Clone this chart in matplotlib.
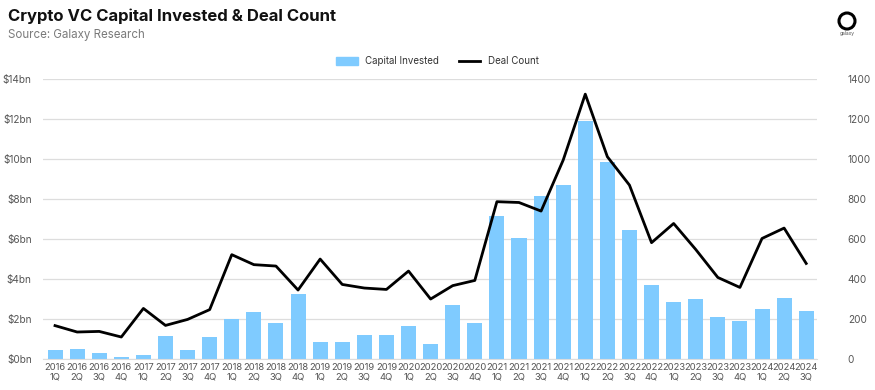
import numpy as np
import matplotlib
matplotlib.use("Agg")
import matplotlib.pyplot as plt
from matplotlib.patches import Circle, Patch
from matplotlib.lines import Line2D

BAR = "#7FCBFF"
GRID = "#DDDDDD"
TICK = "#555555"

years = [2016] * 4 + [2017] * 4 + [2018] * 4 + [2019] * 4 + [2020] * 4 + \
        [2021] * 4 + [2022] * 4 + [2023] * 4 + [2024] * 3
quarters = (["1Q", "2Q", "3Q", "4Q"] * 9)[:35]
labels = [f"{y}\n{q}" for y, q in zip(years, quarters)]

capital_bn = [0.45, 0.52, 0.30, 0.08, 0.20, 1.15, 0.45, 1.10,
              1.98, 2.37, 1.80, 3.27, 0.85, 0.85, 1.20, 1.20,
              1.67, 0.75, 2.72, 1.82, 7.17, 6.07, 8.15, 8.73,
              11.90, 9.87, 6.45, 3.70, 2.85, 3.00, 2.08, 1.92,
              2.50, 3.07, 2.42]
deal_count = [167, 135, 138, 110, 253, 168, 198, 247,
              522, 472, 465, 345, 500, 373, 355, 348,
              440, 300, 367, 393, 787, 783, 740, 995,
              1325, 1012, 870, 582, 678, 548, 408, 358,
              603, 655, 478]

plt.rcParams["font.family"] = ["Inter", "DejaVu Sans"]

fig = plt.figure(figsize=(8.75, 3.9), dpi=100)
ax = fig.add_axes([0.049, 0.0795, 0.885, 0.7175])
ax2 = ax.twinx()

x = np.arange(len(labels))
ax.bar(x, capital_bn, width=0.68, color=BAR, zorder=2)
ax2.plot(x, deal_count, color="black", lw=2.0, zorder=3)

ax.set_xlim(-0.55, 34.5)
ax.set_ylim(0, 14)
ax2.set_ylim(0, 1400)
ax.set_yticks(range(0, 15, 2))
ax.set_yticklabels([f"${v}bn" for v in range(0, 15, 2)])
ax2.set_yticks(range(0, 1401, 200))
ax.set_xticks(x)
ax.set_xticklabels(labels, fontsize=6.8, color=TICK, linespacing=1.1)
ax.yaxis.grid(True, color=GRID, lw=0.9, zorder=0)
ax.set_axisbelow(True)
ax.tick_params(axis="y", labelsize=7.2, colors=TICK, length=0, pad=8)
ax.tick_params(axis="x", length=0, pad=3)
ax2.tick_params(axis="y", labelsize=7.2, colors=TICK, length=0, pad=22)
for a in (ax, ax2):
    for s in a.spines.values():
        s.set_visible(False)
ax.spines["bottom"].set_visible(True)
ax.spines["bottom"].set_color(GRID)

handles = [Patch(color=BAR, label="Capital Invested"),
           Line2D([0], [0], color="black", lw=2.0, label="Deal Count")]
fig.legend(handles=handles, loc="center", bbox_to_anchor=(0.5, 0.843), ncol=2,
           frameon=False, fontsize=7, handlelength=2.2, handleheight=0.8,
           columnspacing=2.0, labelcolor="#333333")

fig.text(0.009, 0.958, "Crypto VC Capital Invested & Deal Count", fontsize=12,
         fontweight="bold", color="#111111", ha="left", va="center")
fig.text(0.009, 0.91, "Source: Galaxy Research", fontsize=8.3, color="#7a7a7a",
         ha="left", va="center")

# galaxy logo (square inset so the ring stays round)
logo = fig.add_axes([837 / 875, 1 - 31 / 390, 20 / 875, 20 / 390])
logo.set_xlim(-1, 1)
logo.set_ylim(-1, 1)
logo.set_aspect("equal")
logo.axis("off")
logo.add_patch(Circle((0, 0), 0.8, fill=False, lw=2.2, ec="black"))
fig.text(847 / 875, 1 - 34 / 390, "galaxy", fontsize=3.5, color="#555555",
         ha="center", va="center")

fig.savefig("out.png", dpi=100, facecolor="white")
